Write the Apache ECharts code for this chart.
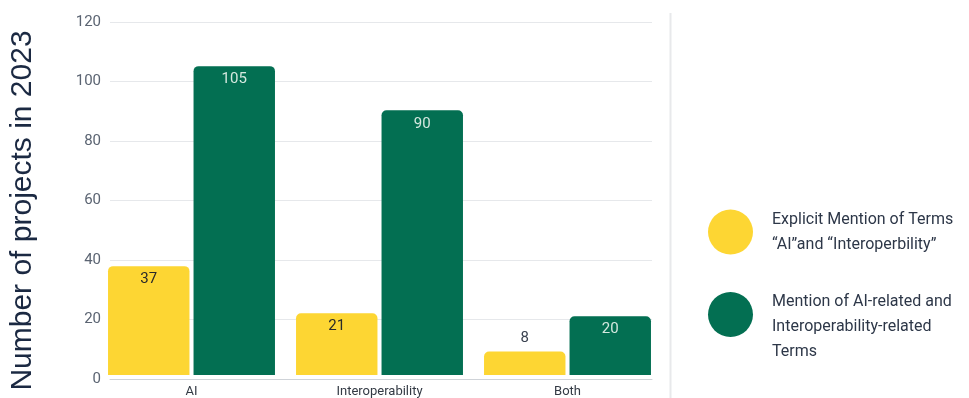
<!DOCTYPE html>
<html>
<head>
<meta charset="utf-8">
<script src="https://cdn.jsdelivr.net/npm/echarts@6/dist/echarts.min.js"></script>
<style>
html,body{margin:0;padding:0;background:#fff;}
#chart{width:969px;height:398px;}
</style>
</head>
<body>
<div id="chart"></div>
<script>
const categories = ['AI', 'Interoperability', 'Both'];
const explicitName = 'Explicit Mention of Terms\n\u201cAI\u201dand \u201cInteroperbility\u201d';
const relatedName = 'Mention of AI-related and\nInteroperability-related\nTerms';
const explicitValues = [37, 21, 8];
const relatedValues = [105, 90, 20];
const yTicks = { min: 0, max: 120, interval: 20 };

const YELLOW = '#FDD633';
const GREEN = '#036F52';
const FONT = 'Roboto';

const chart = echarts.init(document.getElementById('chart'));
chart.setOption({
  animation: false,
  backgroundColor: '#ffffff',
  grid: [
    { left: 97.5, right: 307.5, top: 22, bottom: 19 },
    { left: 107, right: 317, top: 22, bottom: 19 }
  ],
  xAxis: [
    { gridIndex: 0, type: 'category', data: categories,
      axisLine: { show: false }, axisTick: { show: false },
      axisLabel: { color: '#333a44', fontSize: 13, fontFamily: FONT, margin: 10 } },
    { gridIndex: 1, type: 'category', data: categories,
      axisLine: { show: true, lineStyle: { color: '#cfd3d8', width: 1 } },
      axisTick: { show: false }, axisLabel: { show: false } }
  ],
  yAxis: [
    { gridIndex: 0, type: 'value', min: yTicks.min, max: yTicks.max, interval: yTicks.interval,
      show: false, splitLine: { show: false } },
    { gridIndex: 1, type: 'value', min: yTicks.min, max: yTicks.max, interval: yTicks.interval,
      axisLine: { show: false }, axisTick: { show: false },
      axisLabel: { color: '#5b6472', fontSize: 15, fontFamily: FONT, margin: 9 },
      splitLine: { lineStyle: { color: '#e6e8eb', width: 1 } },
      name: 'Number of projects in 2023', nameLocation: 'middle', nameRotate: 90, nameGap: 72,
      nameTextStyle: { color: '#1b2942', fontSize: 30, fontFamily: 'Liberation Sans', padding: [0, 20, 0, 0] } }
  ],
  legend: {
    orient: 'vertical', left: 703, top: 202, itemWidth: 45, itemHeight: 45, itemGap: 8,
    icon: 'circle',
    formatter: function (name) {
      return name === relatedName ? '{g| }\n' + name : name;
    },
    textStyle: { color: '#2d3748', fontSize: 16, fontFamily: FONT, lineHeight: 25, padding: [0, 0, 0, 14],
      rich: { g: { fontSize: 10, lineHeight: 24 } } },
    data: [explicitName, relatedName]
  },
  series: [
    { name: explicitName, type: 'bar', xAxisIndex: 0, yAxisIndex: 0, data: explicitValues.map(function (v) {
        return v < 15 ? { value: v, label: { position: 'top', color: '#3a4250' } } : v;
      }),
      barGap: '5%', barCategoryGap: '11.2%',
      itemStyle: { color: YELLOW, borderRadius: [5, 5, 0, 0] },
      label: { show: true, position: 'insideTop', distance: 6, color: '#2a2a2a', fontSize: 15, fontFamily: FONT } },
    { name: relatedName, type: 'bar', xAxisIndex: 0, yAxisIndex: 0, data: relatedValues,
      barGap: '5%', barCategoryGap: '11.2%',
      itemStyle: { color: GREEN, borderRadius: [5, 5, 0, 0] },
      label: { show: true, position: 'insideTop', distance: 6, color: '#d4e8df', fontSize: 15, fontFamily: FONT } }
  ],
  graphic: [
    { type: 'line', shape: { x1: 670.5, y1: 13, x2: 670.5, y2: 398 },
      style: { stroke: '#e8e9eb', lineWidth: 2 }, silent: true }
  ]
});
</script>
</body>
</html>
